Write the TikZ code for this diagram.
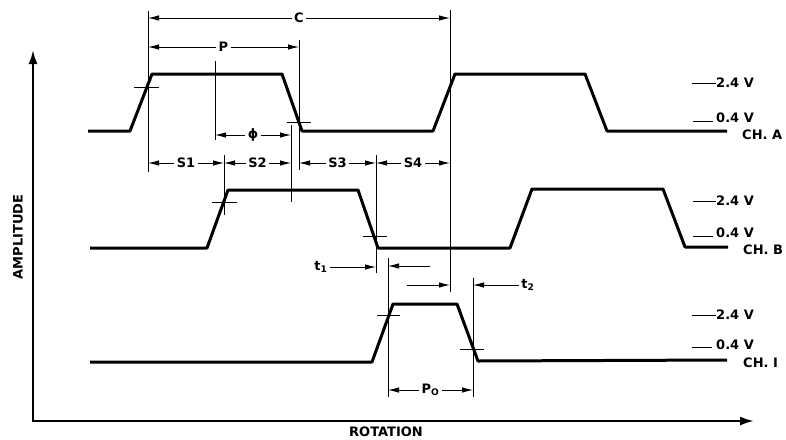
\documentclass[tikz,border=0pt]{standalone}
\usepackage{fontspec}
\setmainfont{DejaVu Sans}
\usetikzlibrary{arrows.meta, positioning}

\begin{document}
\begin{tikzpicture}[x=1pt, y=-1pt,
				>={Latex[length=11pt,width=5.5pt]},
				font=\bfseries\fontsize{13}{14}\selectfont,
				wave/.style={line width=3pt, line join=round},
				dim/.style={line width=0.9pt},
				axis/.style={line width=2.2pt, {Latex[length=14pt,width=9pt]}-{Latex[length=14pt,width=9pt]}},
				lbl/.style={fill=white, inner sep=2.5pt}]
				\useasboundingbox (0,0) rectangle (786,439);
				% axes
				\coordinate (ytop) at (33,50);
				\coordinate (o) at (33,421);
				\coordinate (xend) at (754,421);
				\draw[axis] (ytop) -- (o) -- (xend);
				\node at (18,237) (amp) [rotate=90, inner sep=0pt] {AMPLITUDE};
				\node at (386,432) (rot) [inner sep=0pt] {ROTATION};
				% waveforms
				\draw[wave] (88,131) -- (130,131) -- (152,74) -- (282,74) -- (302,131) -- (433,131) -- (455,74) -- (585,74) -- (607,131) -- (727,131);
				\draw[wave] (90,248) -- (207,248) -- (228,190) -- (358,190) -- (378,248) -- (510,248) -- (532,189) -- (663,189) -- (685,247) -- (728,247);
				\draw[wave] (90,362) -- (372,362) -- (393,304) -- (457,304) -- (478,361) -- (727,360);
				% crossing points
				\coordinate (ar) at (148,87);
				\coordinate (af) at (299,122);
				\coordinate (br) at (224,202);
				\coordinate (bf) at (376,236);
				\coordinate (ir) at (388,315);
				\coordinate (if) at (473,349);
				\draw[dim] ([xshift=-14pt]ar) -- ([xshift=11pt]ar);
				\draw[dim] ([xshift=-12pt]af) -- ([xshift=12pt]af);
				\draw[dim] ([xshift=-12pt]br) -- ([xshift=13pt]br);
				\draw[dim] ([xshift=-13pt]bf) -- ([xshift=11pt]bf);
				\draw[dim] ([xshift=-11pt]ir) -- ([xshift=12pt]ir);
				\draw[dim] ([xshift=-13pt]if) -- ([xshift=11pt]if);
				% extension lines
				\draw[dim] (ar |- 0,11) -- (ar |- 0,172);
				\draw[dim] (215,61) -- (215,140);
				\draw[dim] (291,125) -- (291,202);
				\draw[dim] (af |- 0,40) -- (af |- 0,170);
				\draw[dim] (br |- 0,155) -- (br |- 0,215);
				\draw[dim] (bf |- 0,155) -- (bf |- 0,273);
				\draw[dim] (450,10) -- (450,292);
				\draw[dim] (ir |- 0,258) -- (ir |- 0,397);
				\draw[dim] (if |- 0,278) -- (if |- 0,397);
				% dimensions
				\draw[dim, <->] (ar |- 0,18) -- node[lbl] (c) {C} (450,18);
				\draw[dim, <->] (ar |- 0,47) -- node[lbl] (p) {P} (af |- 0,47);
				\draw[dim, <->] (215,135) -- node[lbl] (phi) {ϕ} (291,135);
				\draw[dim, <->] (ar |- 0,163) -- node[lbl] (s1) {S1} (br |- 0,163);
				\draw[dim, <->] (br |- 0,163) -- node[lbl] (s2) {S2} (291,163);
				\draw[dim, <->] (af |- 0,163) -- node[lbl] (s3) {S3} (bf |- 0,163);
				\draw[dim, <->] (bf |- 0,163) -- node[lbl] (s4) {S4} (450,163);
				\draw[dim, <->] (ir |- 0,390) -- node[lbl] (po) {P\textsubscript{O}} (if |- 0,390);
				\node at (321,267) (t1) [inner sep=2pt] {t\textsubscript{1}};
				\node at (528,285) (t2) [inner sep=2pt] {t\textsubscript{2}};
				\draw[dim, ->] (t1) -- (bf |- t1);
				\draw[dim, ->] (430,266) -- (ir |- 0,266);
				\draw[dim, ->] (407,285) -- (450,285);
				\draw[dim, ->] (t2) -- (if |- t2);
				% levels
				\node at (716,83) (a24) [anchor=west, inner sep=0pt] {2.4 V};
				\node at (716,118) (a04) [anchor=west, inner sep=0pt] {0.4 V};
				\node at (742,135) (cha) [anchor=west, inner sep=0pt] {CH. A};
				\node at (716,201) (b24) [anchor=west, inner sep=0pt] {2.4 V};
				\node at (716,233) (b04) [anchor=west, inner sep=0pt] {0.4 V};
				\node at (743,250) (chb) [anchor=west, inner sep=0pt] {CH. B};
				\node at (716,315) (i24) [anchor=west, inner sep=0pt] {2.4 V};
				\node at (716,345) (i04) [anchor=west, inner sep=0pt] {0.4 V};
				\node at (743,363) (chi) [anchor=west, inner sep=0pt] {CH. I};
				\draw[dim] (692,83) -- (a24.west);
				\draw[dim] (693,121) -- (713,121);
				\draw[dim] (693,201) -- (b24.west);
				\draw[dim] (693,236) -- (713,236);
				\draw[dim] (692,315) -- (i24.west);
				\draw[dim] (692,347) -- (712,347);
			\end{tikzpicture}
\end{document}
